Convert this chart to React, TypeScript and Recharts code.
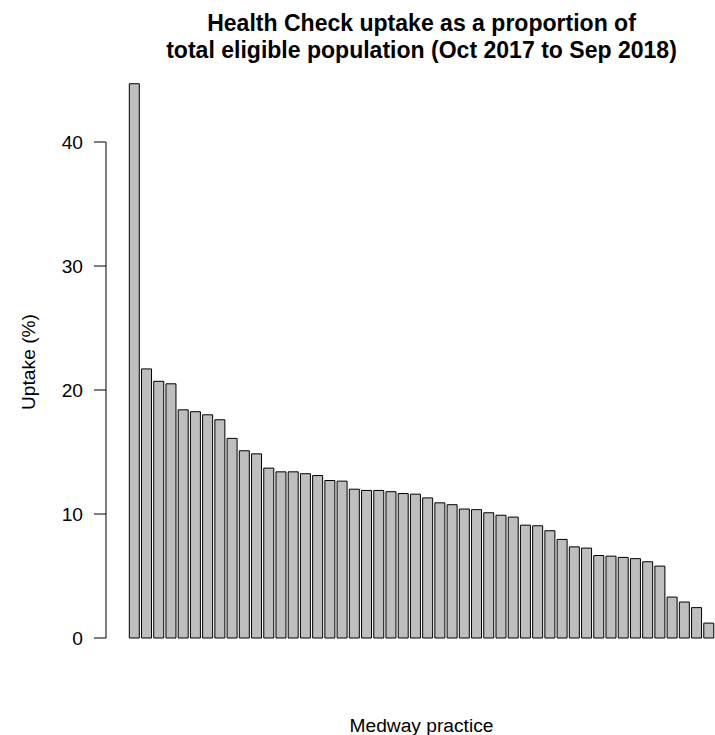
import { BarChart, Bar, XAxis, YAxis } from 'recharts';

const practices = [
  'P01', 'P02', 'P03', 'P04', 'P05', 'P06', 'P07', 'P08', 'P09', 'P10', 'P11', 'P12',
  'P13', 'P14', 'P15', 'P16', 'P17', 'P18', 'P19', 'P20', 'P21', 'P22', 'P23', 'P24',
  'P25', 'P26', 'P27', 'P28', 'P29', 'P30', 'P31', 'P32', 'P33', 'P34', 'P35', 'P36',
  'P37', 'P38', 'P39', 'P40', 'P41', 'P42', 'P43', 'P44', 'P45', 'P46', 'P47', 'P48',
];

const uptake = [
  44.7, 21.7, 20.7, 20.5, 18.4, 18.25, 18.0, 17.6, 16.1, 15.1, 14.85, 13.7,
  13.4, 13.4, 13.25, 13.1, 12.7, 12.65, 12.0, 11.9, 11.9, 11.8, 11.65, 11.6,
  11.3, 10.9, 10.75, 10.4, 10.35, 10.1, 9.9, 9.75, 9.1, 9.05, 8.65, 7.95,
  7.35, 7.25, 6.65, 6.6, 6.5, 6.4, 6.15, 5.8, 3.3, 2.9, 2.45, 1.2,
];

const yTicks = [0, 10, 20, 30, 40];

const data = practices.map((p, i) => ({ practice: p, uptake: uptake[i] }));

const W = 715;
const H = 735;
const TOP = 67.6;
const BOTTOM = 97;
const Y_MAX = 46;
const plotH = H - TOP - BOTTOM;
const axisGap = (plotH * (Y_MAX - 40)) / Y_MAX;
const axisLen = (plotH * 40) / Y_MAX;

const font = '"Liberation Sans", Arial, sans-serif';
const BASE = 19.2;

export default function App() {
  return (
    <div style={{ position: 'absolute', left: 0, top: 0, width: W, height: H, background: '#fff' }}>
      <BarChart
        width={W}
        height={H}
        data={data}
        margin={{ top: TOP, right: 0, bottom: BOTTOM, left: 0 }}
        barCategoryGap={1}
        style={{ fontFamily: font }}
      >
        <text x={421.5} y={31} textAnchor="middle" fontSize={BASE * 1.2} fontWeight="bold" fill="#000">
          Health Check uptake as a proportion of
        </text>
        <text x={421.5} y={58} textAnchor="middle" fontSize={BASE * 1.2} fontWeight="bold" fill="#000">
          total eligible population (Oct 2017 to Sep 2018)
        </text>
        <text
          x={28}
          y={362}
          textAnchor="middle"
          dominantBaseline="central"
          fontSize={BASE}
          fill="#000"
          transform="rotate(-90 28 362)"
        >
          Uptake (%)
        </text>
        <text x={421.5} y={732} textAnchor="middle" fontSize={BASE} fill="#000">
          Medway practice
        </text>
        <XAxis
          dataKey="practice"
          hide
          padding={{ left: 22.3, right: 0 }}
        />
        <YAxis
          width={106}
          domain={[0, Y_MAX]}
          ticks={yTicks}
          interval={0}
          tickSize={12}
          tickMargin={11}
          tick={{ fontSize: BASE, fill: '#000' }}
          tickLine={{ stroke: '#000' }}
          axisLine={{ stroke: '#000', strokeDasharray: `0 ${axisGap} ${axisLen} 1000` }}
        />
        <Bar
          dataKey="uptake"
          fill="#bebebe"
          stroke="#000"
          strokeWidth={1}
          isAnimationActive={false}
        />
      </BarChart>
    </div>
  );
}
